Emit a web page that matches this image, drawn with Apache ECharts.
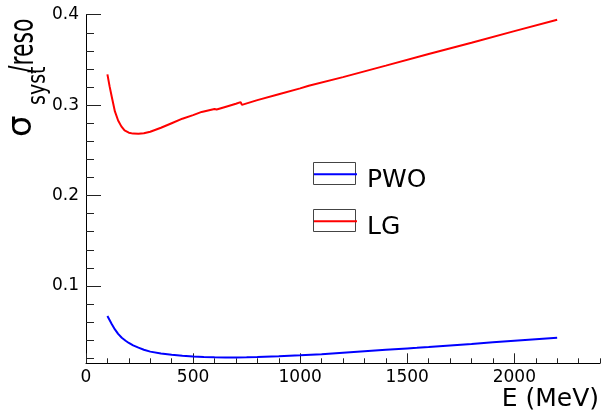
<!DOCTYPE html>
<html>
<head>
<meta charset="utf-8">
<script src="https://cdn.jsdelivr.net/npm/echarts@6/dist/echarts.min.js"></script>
<style>html,body{margin:0;padding:0;background:#fff;}#c{width:602px;height:418px;}</style>
</head>
<body>
<div id="c"></div>
<script>
// ---- data ----
const lgEnergy = [100,110,120,135,150,165,180,200,220,245,270,300,350,400,450,500,540,545,600,610,650,700,722,728,800,900,1000,1040,1045,1200,1400,1600,1800,2000,2200];
const lgValue  = [0.334,0.321,0.3095,0.293,0.283,0.2765,0.272,0.2695,0.2685,0.2683,0.269,0.2705,0.275,0.280,0.285,0.289,0.2925,0.2915,0.2958,0.2952,0.298,0.3015,0.3033,0.3003,0.3055,0.312,0.3185,0.3215,0.3210,0.331,0.3437,0.3565,0.369,0.3818,0.3945];
const pwoEnergy = [100,120,135,150,167,185,200,220,245,270,300,350,400,450,500,550,600,650,700,750,800,900,1000,1100,1200,1300,1400,1500,1545,1550,1600,1700,1800,1900,2000,2100,2200];
const pwoValue  = [0.0667,0.058,0.052,0.047,0.0428,0.0395,0.037,0.0343,0.0318,0.0295,0.0274,0.0253,0.024,0.0229,0.0221,0.0215,0.0212,0.021,0.021,0.0212,0.0215,0.0222,0.0233,0.0246,0.0262,0.0278,0.0294,0.031,0.0316,0.0319,0.0325,0.0342,0.0359,0.0377,0.0395,0.0412,0.0428];
const xMajorTicks = [0,500,1000,1500,2000];
const xMinorTicks = [100,200,300,400,600,700,800,900,1100,1200,1300,1400,1600,1700,1800,1900,2100,2200,2300,2400];
const yMajorTicks = [0.1,0.2,0.3,0.4];
const yMinorTicks = [0.02,0.04,0.06,0.08,0.12,0.14,0.16,0.18,0.22,0.24,0.26,0.28,0.32,0.34,0.36,0.38];
const seriesNames = ['PWO','LG'];

const pair = (xs, ys) => xs.map((x,i)=>[x, ys[i]]);
const FONT = 'DejaVu Sans';
const X_MIN = 0, X_MAX = 2400, Y_MIN = 0.0145, Y_MAX = 0.4;

const chart = echarts.init(document.getElementById('c'), null, {renderer:'canvas'});
const baseX = {type:'value', min:X_MIN, max:X_MAX, position:'bottom', splitLine:{show:false}};
const baseY = {type:'value', min:Y_MIN, max:Y_MAX, position:'left', splitLine:{show:false}};
const legendBase = {
  orient:'vertical', left:313, padding:0,
  itemWidth:43, itemHeight:22, selectedMode:false,
  itemStyle:{opacity:0},
  formatter:'{a|{name}}',
  textStyle:{fontFamily:FONT, fontSize:25, color:'#000', padding:[0,0,0,5],
    rich:{a:{fontFamily:FONT, fontSize:25, color:'#000', lineHeight:37, verticalAlign:'bottom'}}}
};
chart.setOption({
  animation:false,
  backgroundColor:'#fff',
  grid:{left:86, right:2, top:14.7, bottom:54.7, containLabel:false},
  xAxis:[
    Object.assign({}, baseX, {
      axisLine:{show:true, lineStyle:{color:'#000', width:1}},
      axisTick:{show:true, inside:true, length:10, customValues:xMajorTicks, lineStyle:{color:'#222'}},
      axisLabel:{show:true, customValues:xMajorTicks, margin:6, fontFamily:FONT, fontSize:17, color:'#000',
        formatter:v=>String(Math.round(v))}
    }),
    Object.assign({}, baseX, {
      axisLine:{show:false},
      axisTick:{show:true, inside:true, length:5, customValues:xMinorTicks, lineStyle:{color:'#222'}},
      axisLabel:{show:false}
    })
  ],
  yAxis:[
    Object.assign({}, baseY, {
      axisLine:{show:true, lineStyle:{color:'#000', width:1}},
      axisTick:{show:true, inside:true, length:15, customValues:yMajorTicks, lineStyle:{color:'#222'}},
      axisLabel:{show:true, customValues:yMajorTicks, margin:7, fontFamily:FONT, fontSize:17, color:'#000',
        formatter:v=>(Math.round(v*10)/10).toString()}
    }),
    Object.assign({}, baseY, {
      axisLine:{show:false},
      axisTick:{show:true, inside:true, length:8, customValues:yMinorTicks, lineStyle:{color:'#222'}},
      axisLabel:{show:false}
    })
  ],
  legend:[
    Object.assign({}, legendBase, {top:165.5, data:[seriesNames[0]]}),
    Object.assign({}, legendBase, {top:212.5, data:[seriesNames[1]]})
  ],
  series:[
    {name:seriesNames[0], type:'line', data:pair(pwoEnergy,pwoValue), showSymbol:false, symbol:'none',
     lineStyle:{color:'#0000ff', width:2}, itemStyle:{color:'#0000ff'}, xAxisIndex:0, yAxisIndex:0},
    {name:seriesNames[1], type:'line', data:pair(lgEnergy,lgValue), showSymbol:false, symbol:'none',
     lineStyle:{color:'#ff0000', width:2}, itemStyle:{color:'#ff0000'}, xAxisIndex:0, yAxisIndex:0}
  ],
  graphic:[
    {type:'rect', shape:{x:313.5, y:162.5, width:42, height:22}, style:{fill:null, stroke:'#444', lineWidth:1}, silent:true, z:1},
    {type:'rect', shape:{x:313.5, y:209.5, width:42, height:22}, style:{fill:null, stroke:'#444', lineWidth:1}, silent:true, z:1},
    {type:'text', x:599, y:412, style:{text:'E (MeV)', fontFamily:FONT, fontSize:25, fill:'#000', textAlign:'right', textVerticalAlign:'bottom'}},
    {type:'text', x:22.5, y:137, rotation:Math.PI/2, style:{text:'σ', fontFamily:FONT, fontSize:34, fill:'#000', textAlign:'left', textVerticalAlign:'middle'}},
    {type:'text', x:39, y:105, rotation:Math.PI/2, scaleY:1.3, style:{text:'syst', fontFamily:FONT, fontSize:19, fill:'#000', textAlign:'left', textVerticalAlign:'middle'}},
    {type:'text', x:24, y:73, rotation:Math.PI/2, scaleY:1.5, style:{text:'/reso', fontFamily:FONT, fontSize:22, fill:'#000', textAlign:'left', textVerticalAlign:'middle'}}
  ]
});
</script>
</body>
</html>
